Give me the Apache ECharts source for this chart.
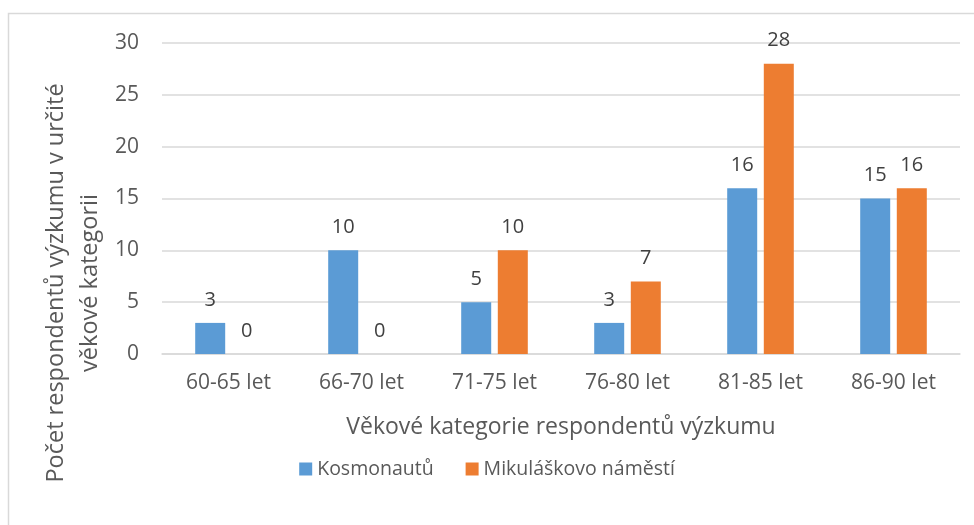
<!DOCTYPE html>
<html>
<head>
<meta charset="utf-8">
<script src="https://cdn.jsdelivr.net/npm/echarts@6/dist/echarts.min.js"></script>
<style>
  html, body { margin: 0; padding: 0; background: #fff; }
  #chart { width: 974px; height: 525px; }
</style>
</head>
<body>
<div id="chart"></div>
<script>
// data
const categories = ['60-65 let', '66-70 let', '71-75 let', '76-80 let', '81-85 let', '86-90 let'];
const kosmonautu = [3, 10, 5, 3, 16, 15];
const mikulaskovo = [0, 0, 10, 7, 28, 16];
const yTicks = { min: 0, max: 30, interval: 5 };

const font = 'Open Sans';
const textColor = '#595959';

const chart = echarts.init(document.getElementById('chart'));

const barLabel = {
  show: true,
  position: 'top',
  distance: 13,
  color: '#404040',
  fontSize: 20,
  fontFamily: font
};

chart.setOption({
  animation: false,
  textStyle: { fontFamily: font },
  graphic: [
    {
      type: 'rect',
      shape: { x: 8.5, y: 13.5, width: 980, height: 600 },
      style: { fill: 'none', stroke: '#d9d9d9', lineWidth: 1.5 },
      silent: true
    },
    {
      // y axis title, sits lower than the plot centre like the original
      type: 'text',
      x: 73,
      y: 283,
      rotation: Math.PI / 2,
      style: {
        text: 'Počet respondentů výzkumu v určité\nvěkové kategorii',
        fill: textColor,
        fontSize: 23.5,
        fontFamily: font,
        align: 'center',
        verticalAlign: 'middle',
        lineHeight: 34
      }
    }
  ],
  grid: { left: 162, right: 14, top: 43, bottom: 171 },
  legend: {
    top: 454,
    left: 'center',
    itemWidth: 13,
    itemHeight: 13,
    itemGap: 32,
    icon: 'rect',
    textStyle: { color: textColor, fontSize: 19.5, fontFamily: font },
    data: ['Kosmonautů', 'Mikuláškovo náměstí']
  },
  xAxis: {
    type: 'category',
    data: categories,
    name: 'Věkové kategorie respondentů výzkumu',
    nameLocation: 'middle',
    nameGap: 62,
    nameTextStyle: { color: textColor, fontSize: 23, fontFamily: font },
    axisTick: { show: false },
    axisLine: { lineStyle: { color: '#d9d9d9', width: 1.5 } },
    axisLabel: { color: textColor, fontSize: 21, margin: 19, fontFamily: font }
  },
  yAxis: {
    type: 'value',
    min: yTicks.min,
    max: yTicks.max,
    interval: yTicks.interval,
    axisLine: { show: false },
    axisTick: { show: false },
    splitLine: { lineStyle: { color: '#d9d9d9', width: 1.5 } },
    axisLabel: { color: textColor, fontSize: 21, margin: 23, fontFamily: font }
  },
  series: [
    {
      name: 'Kosmonautů',
      type: 'bar',
      data: kosmonautu,
      barWidth: 30,
      barGap: '22%',
      itemStyle: { color: '#5b9bd5' },
      label: barLabel
    },
    {
      name: 'Mikuláškovo náměstí',
      type: 'bar',
      data: mikulaskovo,
      barWidth: 30,
      itemStyle: { color: '#ed7d31' },
      label: barLabel
    }
  ]
});
</script>
</body>
</html>
